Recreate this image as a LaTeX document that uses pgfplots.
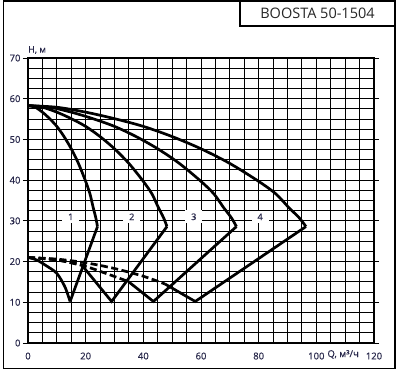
\documentclass[border=0pt]{standalone}
\usepackage{pgfplots}
\pgfplotsset{compat=1.18}
\usepackage{fontspec}
\setmainfont{Open Sans}
\newfontfamily\lblfont[FakeBold=0.5]{Open Sans}
\definecolor{lab}{RGB}{40,40,75}
\begin{document}
\begin{tikzpicture}[x=1pt,y=1pt]
\path[use as bounding box] (0,0) rectangle (401,377);
\draw[line width=1.2pt] (3.5,8.5) rectangle (395,376);
\draw[line width=1.2pt] (240,376) -- (240,351) -- (395,351);
\node[font=\fontsize{14.5}{16}\selectfont, text=black!85] at (317.5,363.5) {BOOSTA 50-1504};
\begin{axis}[
  at={(28pt,34pt)}, anchor=south west, scale only axis,
  width=346pt, height=285pt,
  xmin=0, xmax=120, ymin=0, ymax=70,
  xtick={0,20,...,120}, ytick={0,10,...,70},
  minor xtick={0,5,...,120}, minor ytick={0,2.5,...,70},
  grid=both,
  major grid style={black, line width=1pt},
  minor grid style={black, line width=1pt},
  axis line style={black, line width=1.1pt},
  tick align=outside, major tick length=5pt, minor tick length=0pt,
  xtick style={draw=none}, ytick style={black, line width=0.9pt},
  /pgf/number format/assume math mode=true,
  ticklabel style={font=\lblfont\fontsize{9.5}{10}\selectfont, text=lab},
  xticklabel style={yshift=-1pt},
  yticklabel style={xshift=1pt},
  clip=false,
]
\addplot[black, line width=2.7pt, smooth] coordinates {(0,58.3)(2.5,57.9)(5,56.7)(7.5,55.1)(10,53.2)(12.5,50.7)(15,47.7)(17.5,44.1)(20,39.7)(21.5,36.6)(22.6,33.3)(23.5,30.8)(24.1,28.6)};
\addplot[black, line width=2.7pt, smooth] coordinates {(0,58.3)(5,57.9)(10,56.7)(15,55.1)(20,53.2)(25,50.7)(30,47.7)(35,44.1)(40,39.7)(43,36.6)(45.2,33.3)(47,30.8)(48.2,28.6)};
\addplot[black, line width=2.7pt, smooth] coordinates {(0,58.3)(7.5,57.9)(15,56.7)(22.5,55.1)(30,53.2)(37.5,50.7)(45,47.7)(52.5,44.1)(60,39.7)(64.5,36.6)(67.8,33.3)(70.5,30.8)(72.3,28.6)};
\addplot[black, line width=2.7pt, smooth] coordinates {(0,58.3)(10,57.9)(20,56.7)(30,55.1)(40,53.2)(50,50.7)(60,47.7)(70,44.1)(80,39.7)(86,36.6)(90.4,33.3)(94,30.8)(96.4,28.6)};
% lower branches
\addplot[black, line width=2.7pt, smooth] coordinates {(0,21)(3,20.4)(6.5,18.9)(10,17.1)(12.8,13.8)(14.6,10.2)};
\addplot[black, line width=2.7pt, sharp plot] coordinates {(14.6,10.2)(24.1,28.6)};
\addplot[black, line width=2.7pt, dash pattern=on 7pt off 3.5pt, smooth] coordinates {(0,21)(10,20.4)(18.6,19.2)};
\addplot[black, line width=2.7pt, sharp plot] coordinates {(18.6,19.2)(29,10.2)(48.2,28.6)};
\addplot[black, line width=2.7pt, dash pattern=on 7pt off 3.5pt, smooth] coordinates {(0,21)(10,20.4)(20,18.8)(27,17.1)(34.8,15.1)};
\addplot[black, line width=2.7pt, sharp plot] coordinates {(34.8,15.1)(43.5,10.2)(72.3,28.6)};
\addplot[black, line width=2.7pt, dash pattern=on 7pt off 3.5pt, smooth] coordinates {(0,21)(10,20.6)(20,19.7)(30,18.3)(40,16.4)(47.5,14.5)};
\addplot[black, line width=2.7pt, sharp plot] coordinates {(47.5,14.5)(58,10.2)(96.4,28.6)};
% labels
\foreach \xx/\tt in {14.8/1,36/2,57.5/3,80.5/4}{
  \edef\temp{\noexpand\node[fill=white, inner xsep=6pt, inner ysep=3pt, font=\noexpand\lblfont\noexpand\fontsize{9}{9}\noexpand\selectfont, text=lab] at (axis cs:\xx,31) {\tt};}
  \temp
}
\node[anchor=south west, font=\lblfont\fontsize{9}{9}\selectfont, text=lab, inner sep=0pt] at (rel axis cs:0,1) [yshift=4pt] {H, м};
\node[anchor=north, font=\lblfont\fontsize{9.5}{10}\selectfont, text=lab, inner sep=0pt] at (axis cs:109.3,0) [yshift=-7pt] {Q, м³/ч};
\end{axis}
\end{tikzpicture}
\end{document}
